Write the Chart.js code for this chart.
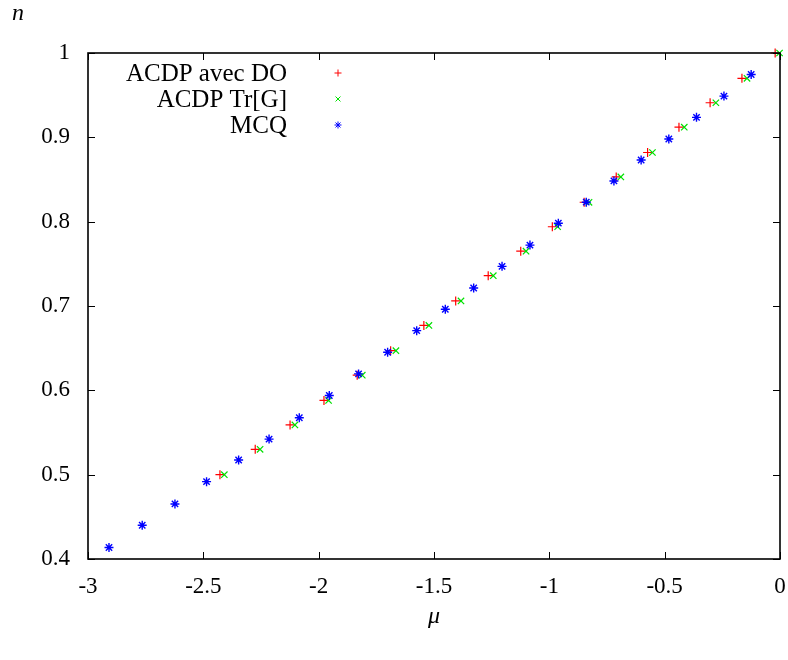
<!DOCTYPE html>
<html>
<head>
<meta charset="utf-8">
<script src="https://cdn.jsdelivr.net/npm/chart.js@4.4.1/dist/chart.umd.min.js"></script>
<style>
  html, body { margin: 0; padding: 0; background: #fff; }
  #wrap { width: 788px; height: 660px; position: relative; }
</style>
</head>
<body>
<div id="wrap"><canvas id="chart"></canvas></div>
<script>
// --- data ---
const seriesNames = ['ACDP avec DO', 'ACDP Tr[G]', 'MCQ'];

const acdpDoMu = [-2.428, -2.275, -2.124, -1.977, -1.833, -1.688, -1.544, -1.406, -1.265,
                  -1.124, -0.987, -0.849, -0.710, -0.574, -0.438, -0.303, -0.165, -0.021];
const acdpDoN  = [0.500, 0.530, 0.559, 0.588, 0.618, 0.647, 0.677, 0.706, 0.736,
                  0.765, 0.794, 0.823, 0.853, 0.882, 0.912, 0.941, 0.970, 1.000];

const acdpTrMu = [-2.409, -2.254, -2.103, -1.957, -1.811, -1.665, -1.522, -1.383, -1.243,
                  -1.101, -0.964, -0.828, -0.690, -0.553, -0.415, -0.278, -0.143, -0.002];
const acdpTrN  = [0.500, 0.530, 0.559, 0.588, 0.618, 0.647, 0.677, 0.706, 0.736,
                  0.765, 0.794, 0.823, 0.853, 0.882, 0.912, 0.941, 0.970, 1.000];

const mcqMu = [-2.909, -2.765, -2.623, -2.486, -2.347, -2.215, -2.084, -1.954, -1.827, -1.701,
               -1.575, -1.451, -1.328, -1.205, -1.084, -0.961, -0.840, -0.720, -0.602, -0.482,
               -0.362, -0.243, -0.125];
const mcqN  = [0.4136, 0.440, 0.4653, 0.4917, 0.5174, 0.5422, 0.5675, 0.5939, 0.6195, 0.6452,
               0.6708, 0.6961, 0.7213, 0.747, 0.7722, 0.7982, 0.8231, 0.8483, 0.8731, 0.898,
               0.9237, 0.9489, 0.9745];

const xTicks = [-3, -2.5, -2, -1.5, -1, -0.5, 0];
const yTicks = [0.4, 0.5, 0.6, 0.7, 0.8, 0.9, 1];

const colors = ['#ff0000', '#00e000', '#0000ff'];
const styles = ['cross', 'crossRot', 'star'];
const FONT = '"Liberation Serif", "DejaVu Serif", serif';

const toPoints = (xs, ys) => xs.map((x, i) => ({ x, y: ys[i] }));

// gnuplot-like frame: inward ticks on all four sides, custom legend, axis letters
const framePlugin = {
    id: 'frame',
    afterDatasetsDraw(chart) {
        const { ctx, chartArea: a, scales } = chart;
        ctx.save();
        ctx.strokeStyle = '#000';
        ctx.lineWidth = 1;
        const t = 7;
        xTicks.forEach(v => {
            const px = Math.round(scales.x.getPixelForValue(v)) + 0.5;
            ctx.beginPath();
            ctx.moveTo(px, a.bottom); ctx.lineTo(px, a.bottom - t);
            ctx.moveTo(px, a.top); ctx.lineTo(px, a.top + t);
            ctx.stroke();
        });
        yTicks.forEach(v => {
            const py = Math.round(scales.y.getPixelForValue(v)) + 0.5;
            ctx.beginPath();
            ctx.moveTo(a.left, py); ctx.lineTo(a.left + t, py);
            ctx.moveTo(a.right, py); ctx.lineTo(a.right - t, py);
            ctx.stroke();
        });
        ctx.lineWidth = 1.6;
        ctx.strokeRect(a.left, a.top, a.right - a.left, a.bottom - a.top);

        // legend: right-aligned label, marker to the right
        ctx.font = '25px ' + FONT;
        ctx.textAlign = 'right';
        ctx.textBaseline = 'middle';
        seriesNames.forEach((name, i) => {
            const y = a.top + 20 + i * 26;
            ctx.fillStyle = '#000';
            ctx.fillText(name, 287, y + 1);
            ctx.strokeStyle = colors[i];
            ctx.fillStyle = colors[i];
            ctx.lineWidth = 1;
            Chart.helpers.drawPoint(ctx, { pointStyle: styles[i], radius: 3.5, rotation: 0, borderWidth: 1 }, 338, y);
        });

        // axis letters
        ctx.fillStyle = '#000';
        ctx.font = 'italic 24px ' + FONT;
        ctx.textAlign = 'center';
        ctx.fillText('n', 18, 14);
        ctx.fillText('\u03bc', (a.left + a.right) / 2, 617);
        ctx.restore();
    }
};

const mkSet = (i, xs, ys, order) => ({
    label: seriesNames[i],
    data: toPoints(xs, ys),
    pointStyle: styles[i],
    pointRadius: 4.5,
    pointHoverRadius: 4.5,
    borderColor: colors[i],
    backgroundColor: colors[i],
    pointBorderWidth: i === 2 ? 1.4 : 1.2,
    showLine: false,
    order
});

new Chart(document.getElementById('chart'), {
    type: 'scatter',
    data: {
        datasets: [
            mkSet(0, acdpDoMu, acdpDoN, 3),
            mkSet(1, acdpTrMu, acdpTrN, 2),
            mkSet(2, mcqMu, mcqN, 1)
        ]
    },
    options: {
        responsive: true,
        maintainAspectRatio: false,
        animation: false,
        clip: false,
        layout: { padding: { left: 0, top: 53, right: 8, bottom: 0 } },
        plugins: { legend: { display: false }, tooltip: { enabled: false } },
        scales: {
            x: {
                type: 'linear', min: -3, max: 0,
                afterBuildTicks: s => { s.ticks = xTicks.map(v => ({ value: v })); },
                afterFit: s => { s.height = 101; s.paddingLeft = 0; s.paddingRight = 0; },
                grid: { display: false, drawTicks: false },
                border: { display: false },
                ticks: { color: '#000', padding: 14, font: { family: FONT, size: 23 },
                         callback: v => String(v) }
            },
            y: {
                type: 'linear', min: 0.4, max: 1,
                afterBuildTicks: s => { s.ticks = yTicks.map(v => ({ value: v })); },
                afterFit: s => { s.width = 88; s.paddingTop = 0; s.paddingBottom = 0; },
                grid: { display: false, drawTicks: false },
                border: { display: false },
                ticks: { color: '#000', padding: 18, font: { family: FONT, size: 23 },
                         callback: v => String(Math.round(v * 10) / 10) }
            }
        }
    },
    plugins: [framePlugin]
});
</script>
</body>
</html>
